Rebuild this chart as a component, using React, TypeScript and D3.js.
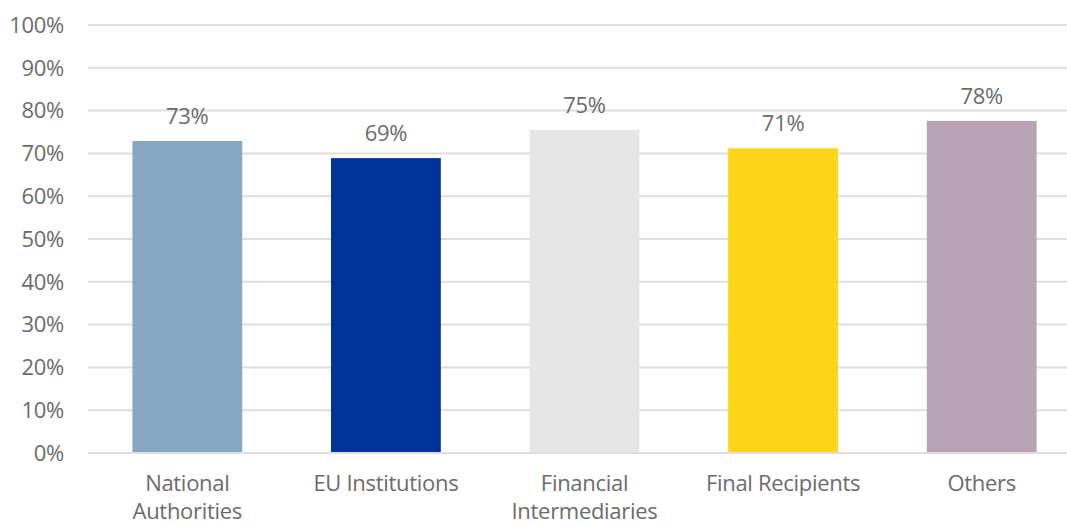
import React from "react";
import * as d3 from "d3";

const categories: string[][] = [
  ["National", "Authorities"],
  ["EU Institutions"],
  ["Financial", "Intermediaries"],
  ["Final Recipients"],
  ["Others"],
];
const values = [0.729, 0.689, 0.755, 0.712, 0.776];
const labels = ["73%", "69%", "75%", "71%", "78%"];
const colors = ["#87A8C3", "#003399", "#E6E6E6", "#FFD617", "#BAA3B5"];
const yTicks = [0, 0.1, 0.2, 0.3, 0.4, 0.5, 0.6, 0.7, 0.8, 0.9, 1.0];

const W = 1067;
const H = 524;
const font = "'Open Sans', 'Noto Sans', sans-serif";
const textColor = "#6b6b6b";

export default function App() {
  const x = d3
    .scaleBand<number>()
    .domain(values.map((_, i) => i))
    .range([88, 1081])
    .paddingInner(0.447)
    .paddingOuter(0.2235);
  const y = d3.scaleLinear().domain([0, 1]).range([453, 25]);
  const fmt = d3.format(".0%");

  return (
    <svg
      width={W}
      height={H}
      style={{ position: "absolute", left: 0, top: 0, background: "#fff" }}
      fontFamily={font}
    >
      {yTicks.map((t) => (
        <g key={t}>
          <line x1={88} x2={1081} y1={y(t)} y2={y(t)} stroke="#DEDEDE" strokeWidth={2} />
          <text
            x={64}
            y={y(t)}
            dy="0.35em"
            textAnchor="end"
            fontSize={22}
            fill={textColor}
            letterSpacing={-0.3}
          >
            {fmt(t)}
          </text>
        </g>
      ))}
      {values.map((v, i) => (
        <g key={i}>
          <rect
            x={x(i)}
            y={y(v)}
            width={x.bandwidth()}
            height={y(0) - y(v) - 1}
            fill={colors[i]}
          />
          <text
            x={(x(i) as number) + x.bandwidth() / 2}
            y={y(v) - 17}
            textAnchor="middle"
            fontSize={22}
            fill={textColor}
            letterSpacing={-0.3}
          >
            {labels[i]}
          </text>
          {categories[i].map((line, j) => (
            <text
              key={j}
              x={(x(i) as number) + x.bandwidth() / 2}
              y={491 + j * 28}
              textAnchor="middle"
              fontSize={22}
              fill={textColor}
              letterSpacing={-0.3}
            >
              {line}
            </text>
          ))}
        </g>
      ))}
    </svg>
  );
}
